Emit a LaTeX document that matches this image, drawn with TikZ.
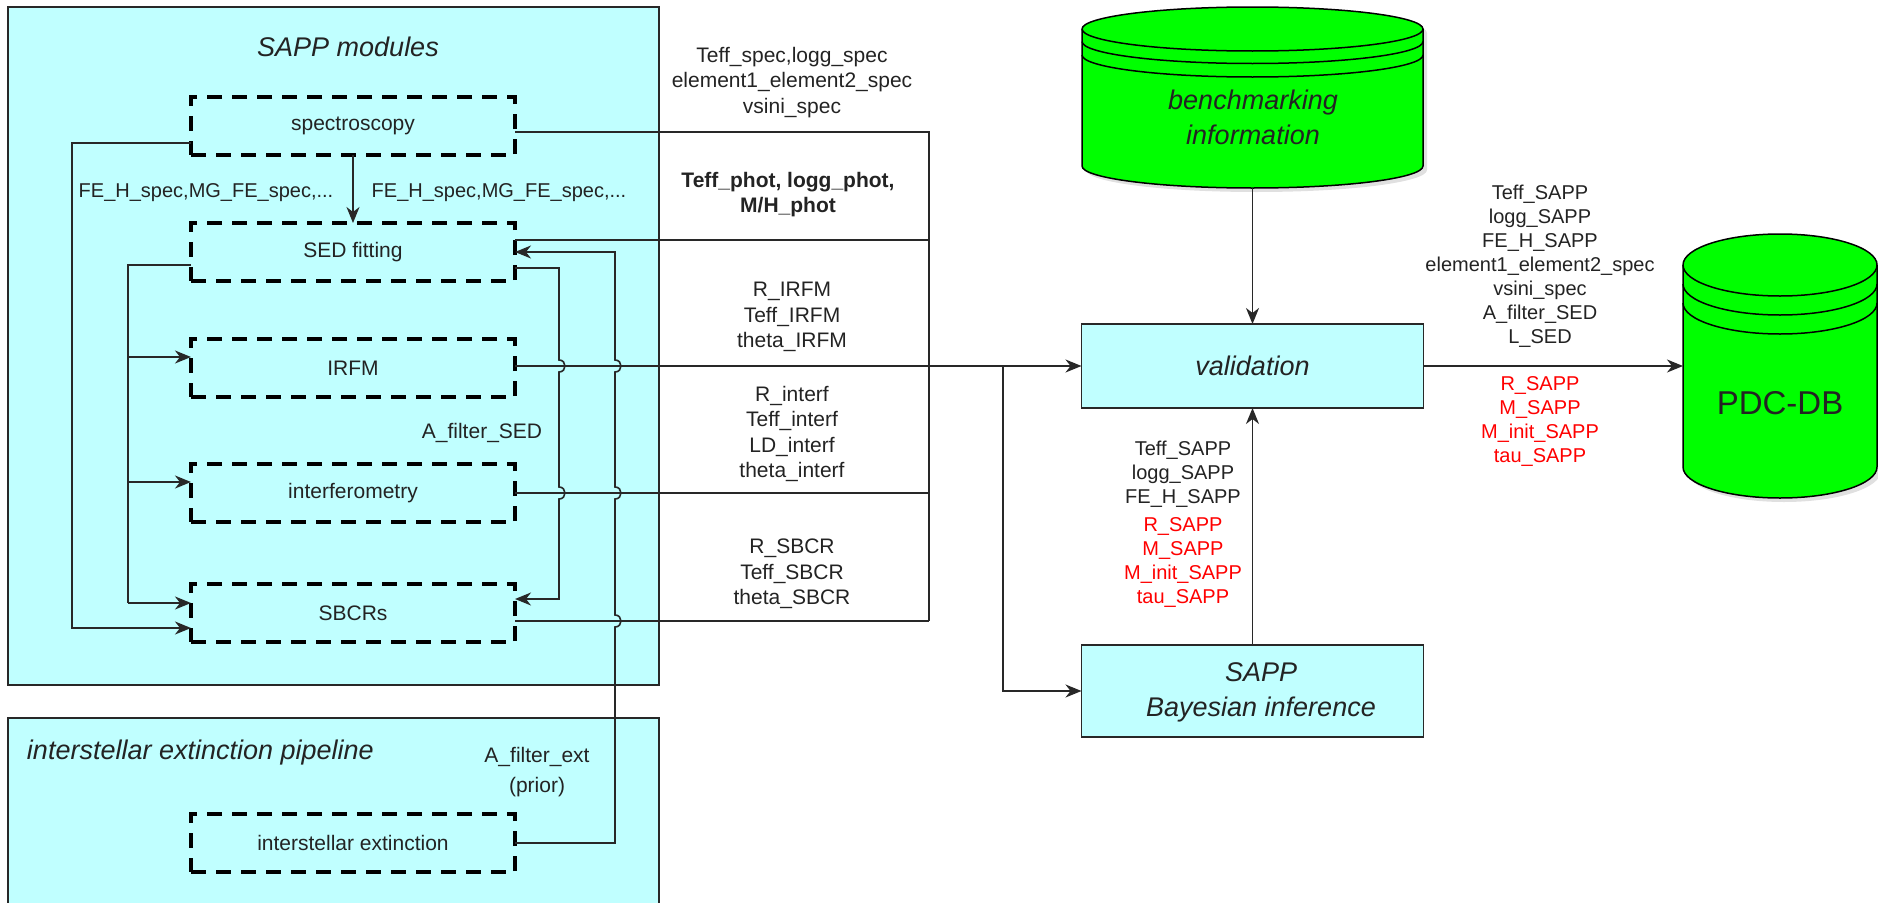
\documentclass[tikz,border=0pt]{standalone}
\usepackage{fontspec}
\setmainfont{Liberation Sans}
\usetikzlibrary{arrows.meta,calc}

\definecolor{panel}{RGB}{192,255,255}
\definecolor{dbgreen}{RGB}{0,255,0}
\definecolor{ink}{RGB}{35,35,35}
\definecolor{linegray}{RGB}{40,40,40}

\begin{document}
\begin{tikzpicture}[x=1pt,y=-1pt,
  every node/.style={inner sep=0pt, outer sep=0pt, text=ink},
  panelbox/.style={draw=linegray, line width=1.6pt, fill=panel},
  module/.style={draw=black, line width=4pt, dash pattern=on 15pt off 10pt,
    minimum width=324pt, minimum height=58pt, font=\fontsize{21}{25}\selectfont},
  procbox/.style={draw=linegray, line width=1.6pt, fill=panel, minimum width=342pt,
    align=center, font=\fontsize{27}{35}\selectfont\itshape},
  link/.style={draw=linegray, line width=1.6pt},
  arr/.style={link, -{Stealth[length=16pt,width=13pt,inset=5pt]}},
  lbl/.style={align=center, font=\fontsize{21}{25.5}\selectfont},
  slbl/.style={align=center, font=\fontsize{20}{24}\selectfont},
  ttl/.style={font=\fontsize{27}{32}\selectfont\itshape},
  store/.style={fill=dbgreen, draw=black, line width=1.5pt},
]
\useasboundingbox (0,0) rectangle (1878,902);

% ---------- panels ----------
\node[panelbox, anchor=north west, minimum width=651pt, minimum height=678pt] (modpanel) at (8,7) {};
\node[panelbox, anchor=north west, minimum width=651pt, minimum height=220pt] (pipepanel) at (8,718) {};
\node[ttl] (modtitle) at (348,47) {SAPP modules};
\node[ttl, anchor=west] (pipetitle) at (27,753) {interstellar extinction pipeline};

% ---------- modules ----------
\node[module] (spec)   at (353,126) {spectroscopy};
\node[module] (sed)    at (353,252) {SED fitting};
\node[module] (irfm)   at (353,368) {IRFM};
\node[module] (interf) at (353,493) {interferometry};
\node[module] (sbcr)   at (353,613) {SBCRs};
\node[module] (ext)    at (353,843) {interstellar extinction};

% ---------- processing boxes ----------
\node[procbox, minimum height=84pt] (val) at (1252.5,366) {validation};
\node[procbox, minimum height=92pt] (bayes) at (1252.5,691) {};
\node[align=center, font=\fontsize{27}{35}\selectfont\itshape] (bayestxt) at (1261,692) {SAPP\\Bayesian inference};

% ---------- data stores (soft shadow first, then body) ----------
\path[fill=black, opacity=0.12] (1086,33) -- (1086,170) arc[start angle=180, end angle=0, x radius=170.5, y radius=22]
  -- (1427,33) arc[start angle=0, end angle=-180, x radius=170.5, y radius=22] -- cycle;
\path[store] (1082,29) -- (1082,166) arc[start angle=180, end angle=0, x radius=170.5, y radius=22]
  -- (1423,29) arc[start angle=0, end angle=-180, x radius=170.5, y radius=22] -- cycle;
\draw[line width=1.5pt] (1082,29) arc[start angle=180, end angle=0, x radius=170.5, y radius=22];
\draw[line width=1.5pt] (1082,41.5) arc[start angle=180, end angle=0, x radius=170.5, y radius=22];
\draw[line width=1.5pt] (1082,55) arc[start angle=180, end angle=0, x radius=170.5, y radius=22];
\node[minimum width=341pt, minimum height=181pt] (bench) at (1252.5,97.5) {};
\node[align=center, font=\fontsize{27}{35}\selectfont\itshape] (benchtxt) at (1253,117.5) {benchmarking\\information};

\path[fill=black, opacity=0.12] (1687,269) -- (1687,471) arc[start angle=180, end angle=0, x radius=97, y radius=31]
  -- (1881,269) arc[start angle=0, end angle=-180, x radius=97, y radius=31] -- cycle;
\path[store] (1683,265) -- (1683,467) arc[start angle=180, end angle=0, x radius=97, y radius=31]
  -- (1877,265) arc[start angle=0, end angle=-180, x radius=97, y radius=31] -- cycle;
\draw[line width=1.5pt] (1683,265) arc[start angle=180, end angle=0, x radius=97, y radius=31];
\draw[line width=1.5pt] (1683,284) arc[start angle=180, end angle=0, x radius=97, y radius=31];
\draw[line width=1.5pt] (1683,303) arc[start angle=180, end angle=0, x radius=97, y radius=31];
\node[minimum width=194pt, minimum height=264pt] (pdc) at (1780,366) {};
\node[font=\fontsize{33}{40}\selectfont] (pdctxt) at (1780,403) {PDC-DB};

% ---------- connectors inside the module panel ----------
\draw[arr] (spec.west |- 0,143) -| (72,628) -- (sbcr.west |- 0,628);
\draw[arr] (spec.south) -- (sed.north);
\draw[link] (sed.west |- 0,265) -| (128,603);
\draw[arr] (128,357) -- (irfm.west |- 0,357);
\draw[arr] (128,482) -- (interf.west |- 0,482);
\draw[arr] (128,603) -- (sbcr.west |- 0,603);
% A_filter_SED: SED fitting -> SBCRs, hopping over the output lines
\draw[arr] (sed.east |- 0,268) -- (559,268) -- (559,360)
  .. controls (567,360) and (567,372) .. (559,372) -- (559,487)
  .. controls (567,487) and (567,499) .. (559,499) -- (559,599) -- (sbcr.east |- 0,599);
% extinction prior -> SED fitting
\draw[arr] (ext.east) -- (615,843) -- (615,627)
  .. controls (623,627) and (623,615) .. (615,615) -- (615,499)
  .. controls (623,499) and (623,487) .. (615,487) -- (615,372)
  .. controls (623,372) and (623,360) .. (615,360) -- (615,252) -- (sed.east);

% ---------- outputs collected on the bus ----------
\coordinate (busTop) at (929,132);
\coordinate (busBot) at (929,621);
\coordinate (split) at (1003,366);
\draw[link] (spec.east |- busTop) -- (busTop) -- (busBot);
\draw[link] (sed.east |- 0,240) -- (929,240);
\draw[link] (interf.east) -- (929,493);
\draw[link] (sbcr.east |- busBot) -- (busBot);
\draw[arr] (irfm.east |- val.west) -- (val.west);
\draw[arr] (split) |- (bayes.west);
\draw[arr] (bench.south) -- (val.north);
\draw[arr] (val.east) -- (pdc.west);
\draw[arr] (bayes.north) -- (val.south);

% ---------- labels ----------
\node[lbl] (lspec)  at (792,82.5) {Teff\_spec,logg\_spec\\element1\_element2\_spec\\vsini\_spec};
\node[lbl, font=\fontsize{21}{25.5}\selectfont\bfseries] (lphot) at (788,194.5) {Teff\_phot, logg\_phot,\\M/H\_phot};
\node[lbl] (lirfm)  at (792,317) {R\_IRFM\\Teff\_IRFM\\theta\_IRFM};
\node[lbl] (linter) at (792,434) {R\_interf\\Teff\_interf\\LD\_interf\\theta\_interf};
\node[lbl] (lsbcr)  at (792,574) {R\_SBCR\\Teff\_SBCR\\theta\_SBCR};
\node[lbl, font=\fontsize{20}{24}\selectfont] (lfe1) at (206,193) {FE\_H\_spec,MG\_FE\_spec,...};
\node[lbl, font=\fontsize{20}{24}\selectfont] (lfe2) at (499,193) {FE\_H\_spec,MG\_FE\_spec,...};
\node[lbl] (lased)  at (482,433) {A\_filter\_SED};
\node[lbl, font=\fontsize{21}{30}\selectfont] (lext) at (537,772) {A\_filter\_ext\\(prior)};

\node[slbl] (lout) at (1540,266) {Teff\_SAPP\\logg\_SAPP\\FE\_H\_SAPP\\element1\_element2\_spec\\vsini\_spec\\A\_filter\_SED\\L\_SED};
\node[slbl, text=red] (loutr) at (1540,421.5) {R\_SAPP\\M\_SAPP\\M\_init\_SAPP\\tau\_SAPP};
\node[slbl] (lbay) at (1183,474) {Teff\_SAPP\\logg\_SAPP\\FE\_H\_SAPP};
\node[slbl, text=red] (lbayr) at (1183,562) {R\_SAPP\\M\_SAPP\\M\_init\_SAPP\\tau\_SAPP};
\end{tikzpicture}
\end{document}
